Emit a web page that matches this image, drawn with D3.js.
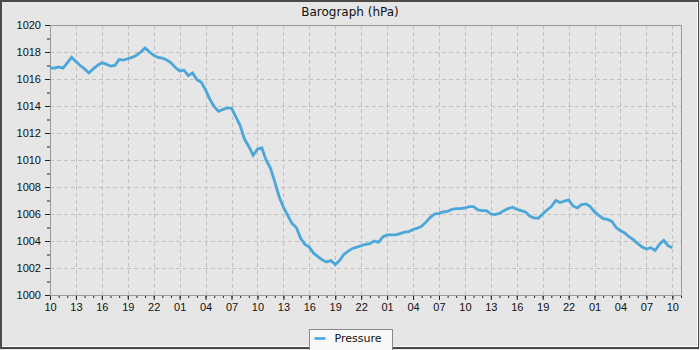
<!DOCTYPE html>
<html>
<head>
<meta charset="utf-8">
<script src="https://cdn.jsdelivr.net/npm/d3@7"></script>
<style>
  body { margin: 0; background: #e6e6e6; }
  svg { display: block; font-family: "DejaVu Sans", sans-serif; }
  .grid line { stroke: #c0c0c0; stroke-dasharray: 4,3; }
  .axis text { font-size: 11px; fill: #111; }
  .axis path { display: none; }
  .axis line { stroke: #222; }
</style>
</head>
<body>
<svg width="700" height="350"></svg>
<script>
// half-hourly readings starting at 10:00
const startTime = "2023-03-14T10:00";
const stepMinutes = 30;
const pressure = [
  1016.85, 1016.8, 1016.9, 1016.8, 1017.2, 1017.6, 1017.3, 1017.0, 1016.75, 1016.45,
  1016.75, 1017.0, 1017.2, 1017.1, 1016.95, 1017.0, 1017.45, 1017.4, 1017.5, 1017.6,
  1017.75, 1018.0, 1018.3, 1018.0, 1017.75, 1017.6, 1017.55, 1017.4, 1017.2, 1016.85,
  1016.6, 1016.65, 1016.25, 1016.45, 1015.95, 1015.75, 1015.2, 1014.5, 1013.95, 1013.6,
  1013.75, 1013.85, 1013.85, 1013.2, 1012.55, 1011.55, 1011.0, 1010.35, 1010.8, 1010.9,
  1010.0, 1009.4, 1008.4, 1007.3, 1006.5, 1005.9, 1005.3, 1005.0, 1004.2, 1003.75,
  1003.55, 1003.1, 1002.85, 1002.6, 1002.45, 1002.55, 1002.25, 1002.55, 1003.0, 1003.25,
  1003.45, 1003.55, 1003.65, 1003.75, 1003.8, 1004.0, 1003.9, 1004.3, 1004.45, 1004.45,
  1004.45, 1004.55, 1004.65, 1004.7, 1004.85, 1004.95, 1005.1, 1005.4, 1005.75, 1006.0,
  1006.05, 1006.15, 1006.2, 1006.35, 1006.4, 1006.4, 1006.45, 1006.55, 1006.55, 1006.3,
  1006.25, 1006.25, 1006.0, 1005.95, 1006.05, 1006.25, 1006.4, 1006.5, 1006.35, 1006.25,
  1006.15, 1005.85, 1005.7, 1005.7, 1006.0, 1006.3, 1006.55, 1007.0, 1006.85, 1006.95,
  1007.05, 1006.6, 1006.45, 1006.7, 1006.75, 1006.55, 1006.15, 1005.9, 1005.65, 1005.6,
  1005.45, 1005.0, 1004.75, 1004.6, 1004.3, 1004.1, 1003.8, 1003.55, 1003.4, 1003.5,
  1003.3, 1003.75, 1004.05, 1003.65, 1003.5
];
const yDomain = [1000, 1020];
const spanHours = 73;
const seriesName = "Pressure";
const title = "Barograph (hPa)";

const svg = d3.select("svg");
const margin = { top: 25, right: 19, bottom: 55, left: 50 };
const width = 700 - margin.left - margin.right;
const height = 350 - margin.top - margin.bottom;

const t0 = new Date(startTime);
const data = pressure.map((p, i) => ({ t: d3.timeMinute.offset(t0, i * stepMinutes), p }));

const x = d3.scaleTime().domain([t0, d3.timeHour.offset(t0, spanHours)]).range([0, width]);
const y = d3.scaleLinear().domain(yDomain).range([height, 0]);

const majorX = d3.range(0, spanHours, 3).map((h) => d3.timeHour.offset(t0, h));
const minorX = d3.range(0, spanHours + 1).map((h) => d3.timeHour.offset(t0, h));
const majorY = d3.range(yDomain[0], yDomain[1] + 1, 2);
const minorY = d3.range(yDomain[0], yDomain[1] + 1, 1);

// frame
svg.append("rect").attr("x", 0).attr("y", 0).attr("width", 700).attr("height", 350).attr("fill", "#e6e6e6");
svg.append("rect").attr("x", 1).attr("y", 1).attr("width", 697).attr("height", 347)
  .attr("fill", "none").attr("stroke", "#4a4a4a").attr("stroke-width", 2);
svg.append("line").attr("x1", 697.5).attr("x2", 697.5).attr("y1", 2).attr("y2", 347).attr("stroke", "#fff");
svg.append("line").attr("x1", 2).attr("x2", 697).attr("y1", 346.5).attr("y2", 346.5).attr("stroke", "#fff");

svg.append("text")
  .attr("x", 350).attr("y", 16)
  .attr("text-anchor", "middle")
  .attr("font-size", 12).attr("fill", "#111")
  .text(title);

const g = svg.append("g").attr("transform", `translate(${margin.left},${margin.top})`);

// grid
g.append("g").attr("class", "grid")
  .selectAll("line").data(majorY.slice(1, -1)).enter().append("line")
  .attr("x1", 0).attr("x2", width)
  .attr("y1", (d) => y(d) + 0.5).attr("y2", (d) => y(d) + 0.5);

g.append("g").attr("class", "grid")
  .selectAll("line").data(majorX.slice(1)).enter().append("line")
  .attr("x1", (d) => Math.round(x(d)) + 0.5).attr("x2", (d) => Math.round(x(d)) + 0.5)
  .attr("y1", 0).attr("y2", height);

// minor ticks
g.append("g").attr("class", "axis")
  .attr("transform", `translate(0,${height})`)
  .call(d3.axisBottom(x).tickValues(minorX).tickSize(3).tickFormat(""));
g.append("g").attr("class", "axis")
  .call(d3.axisLeft(y).tickValues(minorY).tickSize(3).tickFormat(""));

// major ticks
g.append("g").attr("class", "axis")
  .attr("transform", `translate(0,${height})`)
  .call(d3.axisBottom(x).tickValues(majorX).tickSize(5).tickPadding(3)
    .tickFormat(d3.timeFormat("%H")));
g.append("g").attr("class", "axis")
  .call(d3.axisLeft(y).tickValues(majorY).tickSize(5).tickPadding(4).tickFormat(d3.format("d")));

// plot border
g.append("rect").attr("x", 0.5).attr("y", 0.5).attr("width", width).attr("height", height)
  .attr("fill", "none").attr("stroke", "#999");

const line = d3.line().x((d) => x(d.t)).y((d) => y(d.p));
g.append("path").datum(data)
  .attr("fill", "none")
  .attr("stroke", "#4ba6d9")
  .attr("stroke-width", 2.8)
  .attr("stroke-linejoin", "miter")
  .attr("d", line);

// legend
const legend = svg.append("g").attr("transform", "translate(309.5,329.5)");
legend.append("rect").attr("width", 83).attr("height", 22).attr("fill", "#f8f8f8").attr("stroke", "#888");
legend.append("line").attr("x1", 5).attr("x2", 16).attr("y1", 9).attr("y2", 9)
  .attr("stroke", "#4ba6d9").attr("stroke-width", 2.6);
legend.append("text").attr("x", 25).attr("y", 12).attr("font-size", 11).attr("fill", "#111").text(seriesName);
</script>
</body>
</html>
